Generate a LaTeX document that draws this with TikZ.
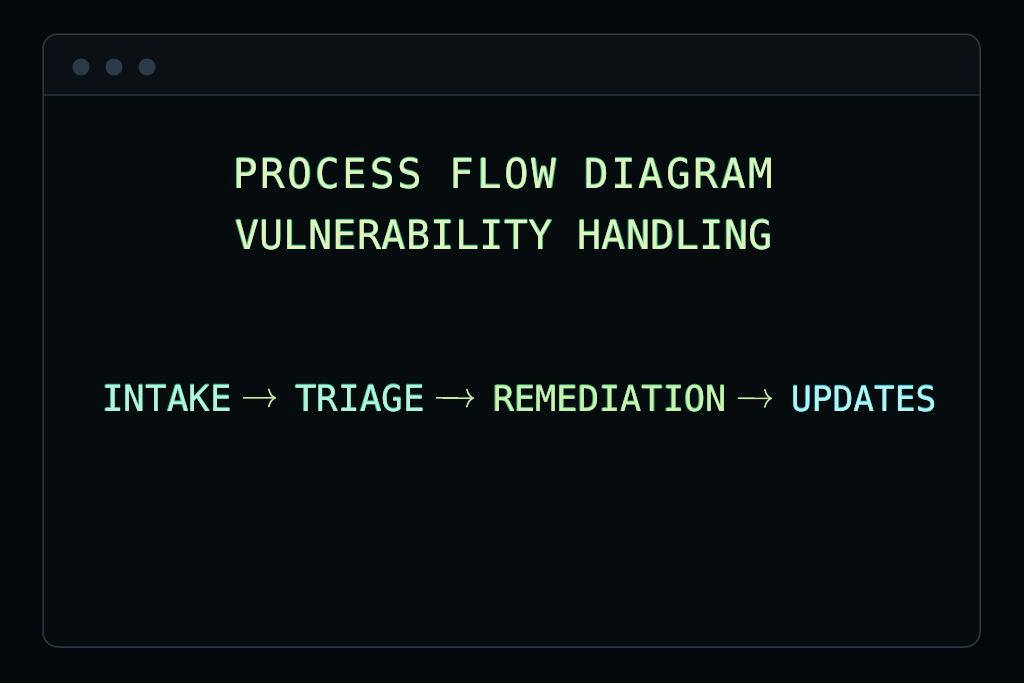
\documentclass[tikz,border=0pt]{standalone}
\usepackage{fontspec}
\usetikzlibrary{arrows.meta}
\newfontfamily\monoA[LetterSpace=6.7]{DejaVu Sans Mono}
\newfontfamily\monoB[LetterSpace=1]{DejaVu Sans Mono}
\newfontfamily\monoC{DejaVu Sans Mono}
\definecolor{bg}{HTML}{04080B}
\definecolor{winfill}{HTML}{060B0E}
\definecolor{barfill}{HTML}{0A1014}
\definecolor{winedge}{HTML}{2B3843}
\definecolor{sepline}{HTML}{1E2A33}
\definecolor{dotc}{HTML}{2A3A48}
\definecolor{tglow}{HTML}{2EB686}
\definecolor{tcore}{HTML}{E2F2BC}
\definecolor{iglow}{HTML}{24B89A}
\definecolor{icore}{HTML}{B8F2DA}
\definecolor{rglow}{HTML}{3DB87A}
\definecolor{rcore}{HTML}{CDEFB0}
\definecolor{uglow}{HTML}{2CC6D6}
\definecolor{ucore}{HTML}{B8F2F2}
\definecolor{arrowc}{HTML}{C4E8A6}
\tikzset{
  lbl/.style={anchor=base west, inner sep=0pt, outer sep=0pt},
  flowarrow/.style={draw=arrowc, line width=1.6pt, -{To[length=8pt,width=19pt,line width=1.6pt]}},
}
\newcommand\gtext[6]{%
  \foreach \dx/\dy in {-0.3/0,0.3/0,0/-0.3,0/0.3}{%
    \node[lbl,text=#4,font=#6] at ([shift={(\dx,\dy)}]#2) {#3};}
  \node[lbl,text=#5,font=#6] (#1) at (#2) {#3};}
\begin{document}
\begin{tikzpicture}[x=1pt,y=-1pt]
\fill[bg] (0,0) rectangle (1024,683);
\useasboundingbox (0,0) rectangle (1024,683);
% window
\fill[winfill, rounded corners=15pt] (43,34) rectangle (980,647);
\begin{scope}
  \clip[rounded corners=15pt] (43,34) rectangle (980,647);
  \fill[barfill] (43,34) rectangle (980,95);
\end{scope}
\draw[sepline, line width=1.2pt] (43,95) -- (980,95);
\draw[winedge, line width=1.5pt, rounded corners=15pt] (43,34) rectangle (980,647);
\foreach \x in {81,114,147}{\fill[dotc] (\x,67) circle (8.5);}
% titles
\gtext{title1}{233,188}{PROCESS FLOW DIAGRAM}{tglow}{tcore}{\monoA\fontsize{41}{41}\selectfont}
\gtext{title2}{235,249}{VULNERABILITY HANDLING}{tglow}{tcore}{\monoB\fontsize{40}{40}\selectfont}
% flow
\gtext{intake}{102,411}{INTAKE}{iglow}{icore}{\monoC\fontsize{36}{36}\selectfont}
\gtext{triage}{295,411}{TRIAGE}{iglow}{icore}{\monoC\fontsize{36}{36}\selectfont}
\gtext{remed}{493,411}{REMEDIATION}{rglow}{rcore}{\monoC\fontsize{35.3}{35.3}\selectfont}
\gtext{updates}{791,411}{UPDATES}{uglow}{ucore}{\monoC\fontsize{34.5}{34.5}\selectfont}
\draw[flowarrow] ([xshift=11pt]intake.east) -- ([xshift=-19pt]triage.west);
\draw[flowarrow] ([xshift=11pt]triage.east) -- ([xshift=-19pt]remed.west);
\draw[flowarrow] ([xshift=11pt]remed.east) -- ([xshift=-19pt]updates.west);
\end{tikzpicture}
\end{document}
